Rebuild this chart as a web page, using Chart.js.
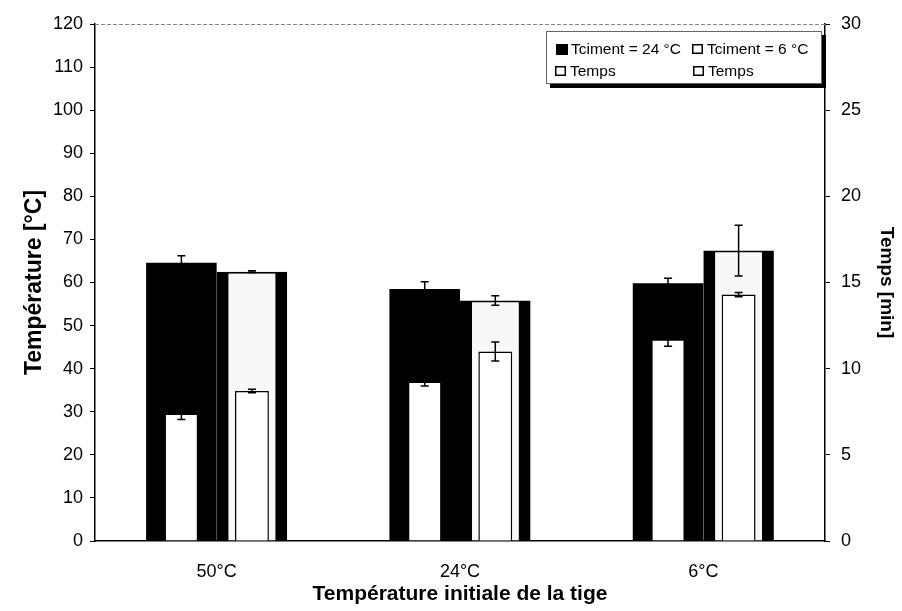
<!DOCTYPE html>
<html>
<head>
<meta charset="utf-8">
<script src="https://cdn.jsdelivr.net/npm/chart.js@4.4.0/dist/chart.umd.min.js"></script>
<style>
  html, body { margin: 0; padding: 0; background: #fff; }
  #wrap { width: 902px; height: 611px; }
</style>
</head>
<body>
<div id="wrap"><canvas id="chart" width="902" height="611"></canvas></div>
<script>
// values
const categories = ['50°C', '24°C', '6°C'];

const tempCiment24 = [64.6, 58.5, 59.8];
const tempCiment24Err = [1.6, 1.7, 1.2];
const tempCiment6 = [62.5, 55.8, 67.4];
const tempCiment6Err = [0.2, 1.1, 5.9];

const tempsCiment24 = [7.4, 9.25, 11.7];
const tempsCiment24Err = [0.35, 0.25, 0.4];
const tempsCiment6 = [8.7, 11.0, 14.3];
const tempsCiment6Err = [0.1, 0.55, 0.12];

const legendLabels = ['Tciment = 24 °C', 'Tciment = 6 °C', 'Temps', 'Temps'];

Chart.defaults.font.family = "'Liberation Sans', Arial, sans-serif";
Chart.defaults.color = '#000';

// error bars, drawn after all bars
const errorBars = {
  id: 'errorBars',
  afterDatasetsDraw(chart) {
    const ctx = chart.ctx;
    ctx.save();
    ctx.strokeStyle = '#000';
    ctx.lineWidth = 1.5;
    chart.data.datasets.forEach((ds, i) => {
      if (!ds.errors) return;
      const meta = chart.getDatasetMeta(i);
      const scale = chart.scales[ds.yAxisID];
      meta.data.forEach((bar, j) => {
        const v = ds.data[j], e = ds.errors[j];
        const y1 = scale.getPixelForValue(v + e);
        const y2 = scale.getPixelForValue(v - e);
        const x = bar.x;
        ctx.beginPath();
        ctx.moveTo(x, y1); ctx.lineTo(x, y2);
        ctx.moveTo(x - 4, y1); ctx.lineTo(x + 4, y1);
        ctx.moveTo(x - 4, y2); ctx.lineTo(x + 4, y2);
        ctx.stroke();
      });
    });
    ctx.restore();
  }
};

// plot frame top line + boxed legend
const frameAndLegend = {
  id: 'frameAndLegend',
  afterDraw(chart) {
    const ctx = chart.ctx;
    const a = chart.chartArea;
    ctx.save();
    ctx.strokeStyle = '#888';
    ctx.lineWidth = 1;
    ctx.setLineDash([4, 2]);
    ctx.beginPath();
    ctx.moveTo(a.left, a.top + 0.5);
    ctx.lineTo(a.right, a.top + 0.5);
    ctx.stroke();
    ctx.setLineDash([]);

    // legend box with shadow
    const bx = 546, by = 31, bw = 276, bh = 53;
    ctx.fillStyle = '#000';
    ctx.fillRect(bx + 4, by + 4, bw, bh);
    ctx.fillStyle = '#fff';
    ctx.fillRect(bx, by, bw, bh);
    ctx.strokeStyle = '#666';
    ctx.strokeRect(bx + 0.5, by + 0.5, bw - 1, bh - 1);

    const spots = [[556, 49], [692, 49], [555, 71], [693, 71]];
    ctx.font = "15.5px 'Liberation Sans', Arial, sans-serif";
    ctx.textBaseline = 'middle';
    legendLabels.forEach((txt, i) => {
      const [mx, my] = spots[i];
      if (i === 0) {
        ctx.fillStyle = '#000';
        ctx.fillRect(mx, my - 5, 12, 11);
      } else {
        ctx.fillStyle = '#fff';
        ctx.fillRect(mx, my - 5, 11, 10);
        ctx.strokeStyle = '#000';
        ctx.lineWidth = 1.5;
        ctx.strokeRect(mx + 0.75, my - 4.25, 9.5, 8.5);
      }
      ctx.fillStyle = '#000';
      ctx.fillText(txt, mx + 15, my + 1);
    });
    ctx.restore();
  }
};

new Chart(document.getElementById('chart'), {
  type: 'bar',
  data: {
    labels: categories,
    datasets: [
      {
        label: legendLabels[0],
        data: tempCiment24,
        errors: tempCiment24Err,
        backgroundColor: '#000',
        borderWidth: 0,
        yAxisID: 'y',
        stack: 'a',
        categoryPercentage: 0.58, barPercentage: 1,
        order: 2
      },
      {
        label: legendLabels[1],
        data: tempCiment6,
        errors: tempCiment6Err,
        backgroundColor: '#f8f8f8',
        borderColor: '#000',
        borderWidth: { left: 12, right: 12, top: 2, bottom: 0 },
        borderSkipped: false,
        yAxisID: 'y',
        stack: 'b',
        categoryPercentage: 0.58, barPercentage: 1,
        order: 2
      },
      {
        label: legendLabels[2],
        data: tempsCiment24,
        errors: tempsCiment24Err,
        backgroundColor: '#fff',
        borderColor: '#000',
        borderWidth: 1.5,
        yAxisID: 'y2',
        stack: 'a',
        categoryPercentage: 0.58, barPercentage: 0.48,
        order: 1
      },
      {
        label: legendLabels[3],
        data: tempsCiment6,
        errors: tempsCiment6Err,
        backgroundColor: '#fff',
        borderColor: '#000',
        borderWidth: 1.5,
        yAxisID: 'y2',
        stack: 'b',
        categoryPercentage: 0.58, barPercentage: 0.48,
        order: 1
      }
    ]
  },
  options: {
    responsive: false,
    animation: false,
    devicePixelRatio: 1,
    layout: { padding: { left: 17, right: 0, top: 24, bottom: 0 } },
    plugins: { legend: { display: false }, tooltip: { enabled: false } },
    scales: {
      x: {
        type: 'category',
        offset: true,
        grid: { display: false },
        border: { display: true, color: '#000', width: 1.5 },
        ticks: { font: { size: 18 }, color: '#000', padding: 12 },
        title: {
          display: true,
          text: 'Température initiale de la tige',
          font: { size: 21, weight: 'bold' },
          color: '#000',
          padding: { top: 0, bottom: 4 }
        },
        afterFit(s) { s.height = 70; }
      },
      y: {
        position: 'left',
        stacked: false,
        min: 0, max: 120,
        ticks: { stepSize: 10, font: { size: 18 }, color: '#000', padding: 7 },
        grid: { drawOnChartArea: false, drawTicks: true, tickLength: 5, color: '#000' },
        border: { display: true, color: '#000', width: 1.5 },
        title: {
          display: true,
          text: 'Température [°C]',
          font: { size: 23, weight: 'bold' },
          color: '#000',
          padding: 4
        },
        afterFit(s) { s.width = 78; }
      },
      y2: {
        position: 'right',
        stacked: false,
        min: 0, max: 30,
        ticks: { stepSize: 5, font: { size: 18 }, color: '#000', padding: 11 },
        grid: { drawOnChartArea: false, drawTicks: true, tickLength: 5, color: '#000' },
        border: { display: true, color: '#000', width: 1.5 },
        title: {
          display: true,
          text: 'Temps [min]',
          font: { size: 19, weight: 'bold' },
          color: '#000',
          padding: 4
        },
        afterFit(s) { s.width = 77; }
      }
    }
  },
  plugins: [errorBars, frameAndLegend]
});
</script>
</body>
</html>
